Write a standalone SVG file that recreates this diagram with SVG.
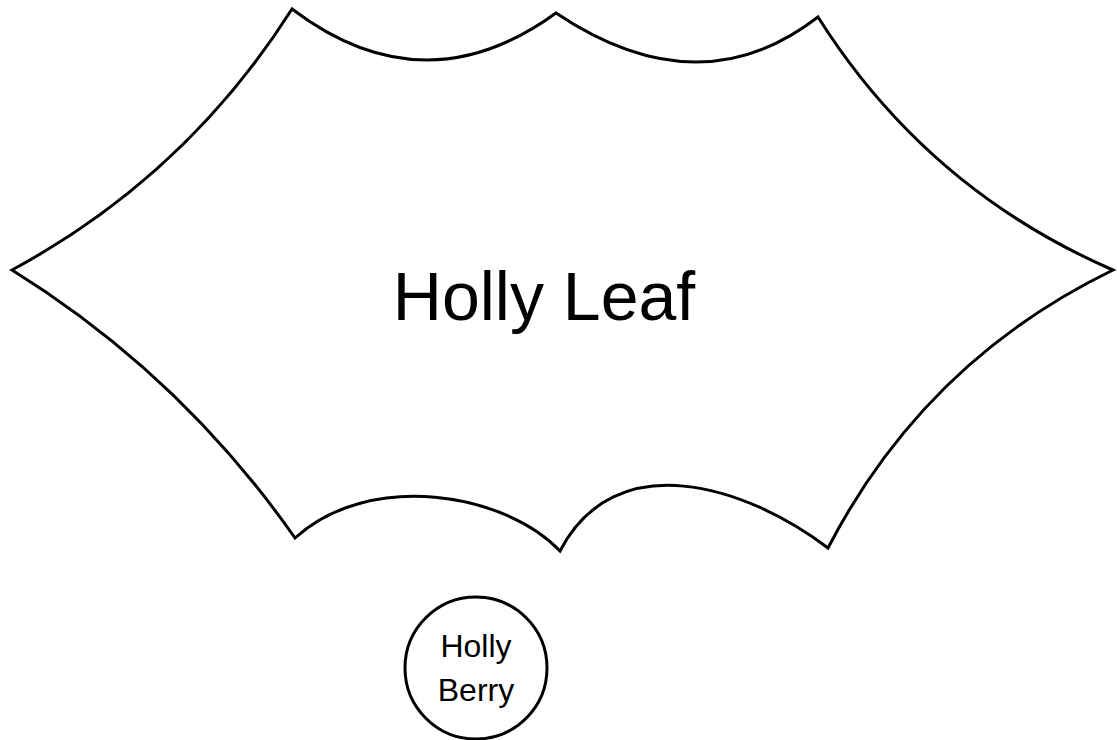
<svg xmlns="http://www.w3.org/2000/svg" width="1117" height="740" viewBox="0 0 1117 740">
<style>
.shape{fill:#ffffff;stroke:#000000;stroke-width:3;stroke-linejoin:miter}
.lbl{font-family:"Liberation Sans",Arial,sans-serif;fill:#000000;text-anchor:middle}
</style>
<rect width="1117" height="740" fill="#ffffff"/>
<g id="holly-leaf">
<path class="shape" d="M12,270 Q186,176 292,9 Q424,109 556,13 Q699,109 818,17 Q926.5,189 1113,270 Q924.5,361.5 828,548 C745,485 615,445 560,551 C505,493 370,470 295,538 Q181,375 12,270 Z"/>
<text class="lbl" x="544" y="320" font-size="68">Holly Leaf</text>
</g>
<g id="holly-berry">
<circle class="shape" cx="476" cy="668" r="71"/>
<text class="lbl" x="476" y="657" font-size="32">Holly</text>
<text class="lbl" x="476" y="701" font-size="32">Berry</text>
</g>
<g id="connectors"/>
</svg>
